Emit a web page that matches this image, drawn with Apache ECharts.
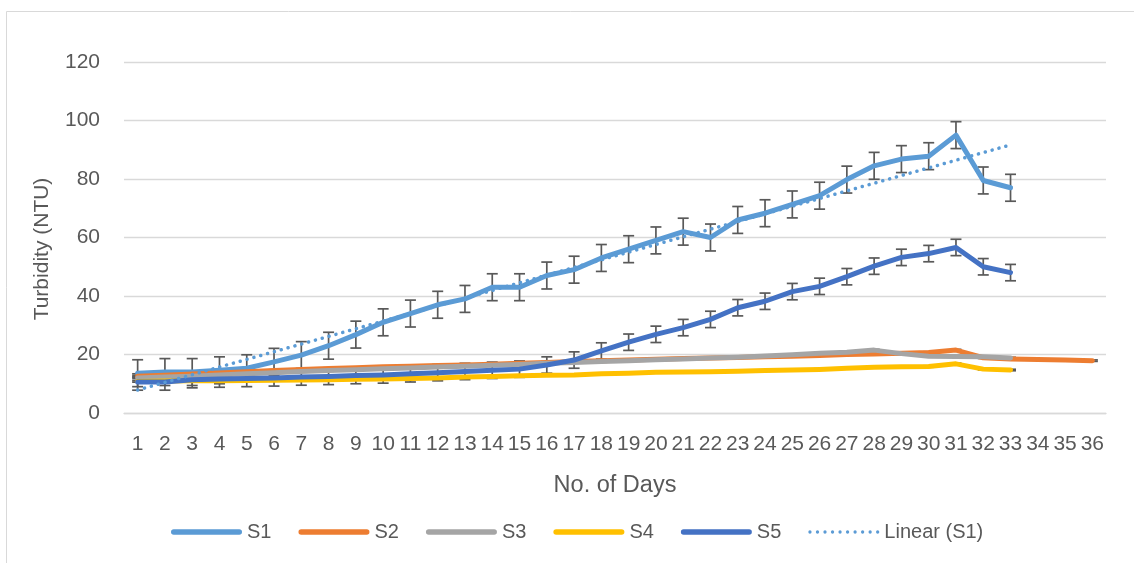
<!DOCTYPE html>
<html>
<head>
<meta charset="utf-8">
<script src="https://cdn.jsdelivr.net/npm/echarts@6/dist/echarts.min.js"></script>
<style>
html,body{margin:0;padding:0;background:#fff;}
#chart{width:1134px;height:563px;}
</style>
</head>
<body>
<div id="chart"></div>
<script>
// ---- data ----
const days = ['1','2','3','4','5','6','7','8','9','10','11','12','13','14','15','16','17','18','19','20','21','22','23','24','25','26','27','28','29','30','31','32','33','34','35','36'];
const yTicks = [0, 20, 40, 60, 80, 100, 120];
const S1 = [13.6,14,14,14.6,15.3,17.5,19.8,23,26.8,31,34,37,39,43,43,47,49,53,56,59,62,60,66,68.3,71.3,74.3,79.8,84.5,86.8,87.8,95,79.5,77];
const S2 = [12.6,12.9,13.3,13.7,14.1,14.5,14.9,15.2,15.5,15.8,16,16.2,16.4,16.7,17,17.3,17.6,17.9,18.1,18.4,18.6,18.8,19,19.2,19.4,19.7,20,20.2,20.4,20.7,21.5,18.9,18.5,18.3,18.1,17.9];
const S3 = [12,12.3,12.6,13,13.4,13.8,14.2,14.5,14.8,15.1,15.4,15.7,16,16.3,16.6,17,17.3,17.6,17.9,18.2,18.5,18.8,19.1,19.5,19.9,20.4,20.8,21.5,20.3,19.4,19.3,19.2,18.8];
const S4 = [10.8,10.9,11,11,11.1,11.2,11.3,11.4,11.5,11.6,11.8,12,12.3,12.5,12.7,12.9,13,13.4,13.6,13.9,14,14.1,14.3,14.5,14.7,14.9,15.3,15.6,15.8,15.9,16.8,15,14.7];
const S5 = [10.6,10.6,11.4,11.6,11.8,12,12.3,12.5,12.8,13,13.4,13.8,14.2,14.6,15,16.4,18.1,21.2,24.2,26.9,29.2,32,36,38.2,41.5,43.3,46.6,50.2,53.2,54.5,56.6,50,48];
const errS1 = 4.6;
const errS5 = 2.8;
const errSmall = 0.25;

// Linear trendline of S1 (least squares over days 1..n)
function linearTrend(vals) {
  const n = vals.length;
  let sx = 0, sy = 0, sxx = 0, sxy = 0;
  for (let i = 0; i < n; i++) { const x = i + 1; sx += x; sy += vals[i]; sxx += x * x; sxy += x * vals[i]; }
  const b = (n * sxy - sx * sy) / (n * sxx - sx * sx);
  const a = (sy - b * sx) / n;
  return vals.map((_, i) => +(a + b * (i + 1)).toFixed(3));
}
const trendS1 = linearTrend(S1);

const C = {s1:'#5B9BD5', s2:'#ED7D31', s3:'#A5A5A5', s4:'#FFC000', s5:'#4472C4'};
const FONT = '"Liberation Sans", Arial, sans-serif';
const TXT = '#595959';

// legend icons
const SOLID_ICON = 'path://M2.75,0h65.5a2.75,2.75 0 0 1 0,5.5h-65.5a2.75,2.75 0 0 1 0,-5.5z';
let dotPath = 'path://';
for (let k = 0; k < 10; k++) { const cx = 1.6 + k * 7.3; dotPath += 'M' + (cx - 1.6) + ',1.6a1.6,1.6 0 1,0 3.2,0a1.6,1.6 0 1,0 -3.2,0z'; }
const DOT_ICON = dotPath;

function errData(vals, e) { return vals.map((v, i) => [i, v, e]); }
function errSeries(vals, e) {
  return {
    type: 'custom',
    silent: true,
    data: errData(vals, e),
    encode: {x: 0, y: 1},
    renderItem: function (params, api) {
      const x = api.value(0), y = api.value(1), er = api.value(2);
      const t = api.coord([x, y + er]);
      const b = api.coord([x, y - er]);
      const hw = 5.5;
      const st = {stroke: '#595959', lineWidth: 1.7};
      return {type: 'group', children: [
        {type: 'line', shape: {x1: t[0], y1: t[1], x2: b[0], y2: b[1]}, style: st},
        {type: 'line', shape: {x1: t[0] - hw, y1: t[1], x2: t[0] + hw, y2: t[1]}, style: st},
        {type: 'line', shape: {x1: b[0] - hw, y1: b[1], x2: b[0] + hw, y2: b[1]}, style: st}
      ]};
    }
  };
}
function lineSeries(name, vals, color) {
  return {
    name: name, type: 'line', data: vals, symbol: 'none', smooth: false,
    lineStyle: {color: color, width: 5, cap: 'round', join: 'round'},
    itemStyle: {color: color},
    emphasis: {disabled: true}
  };
}

const chart = echarts.init(document.getElementById('chart'), null, {renderer: 'canvas'});
chart.setOption({
  animation: false,
  backgroundColor: '#ffffff',
  textStyle: {fontFamily: FONT},
  grid: {left: 124, right: 28, top: 62, bottom: 150, containLabel: false},
  xAxis: {
    type: 'category', data: days, boundaryGap: true,
    axisLine: {show: true, lineStyle: {color: '#D9D9D9', width: 1.3}},
    axisTick: {show: false},
    axisLabel: {interval: 0, color: TXT, fontSize: 21, fontFamily: FONT, margin: 21},
    splitLine: {show: false}
  },
  yAxis: {
    type: 'value', min: yTicks[0], max: yTicks[yTicks.length - 1], interval: 20,
    axisLine: {show: false}, axisTick: {show: false},
    axisLabel: {color: TXT, fontSize: 21, fontFamily: FONT, margin: 24},
    splitLine: {lineStyle: {color: '#D9D9D9', width: 1.3}}
  },
  legend: {
    data: [
      {name: 'S1', icon: SOLID_ICON}, {name: 'S2', icon: SOLID_ICON}, {name: 'S3', icon: SOLID_ICON},
      {name: 'S4', icon: SOLID_ICON}, {name: 'S5', icon: SOLID_ICON}, {name: 'Linear (S1)', icon: DOT_ICON}
    ],
    left: 166, top: 517,
    itemWidth: 71, itemHeight: 6, itemGap: 27,
    textStyle: {color: TXT, fontSize: 20, fontFamily: FONT},
    selectedMode: false
  },
  graphic: [
    {type: 'rect', silent: true, z: -10, shape: {x: 6.5, y: 11.5, width: 1300, height: 700}, style: {fill: 'none', stroke: '#D9D9D9', lineWidth: 1}},
    {type: 'text', silent: true, x: 615, y: 486, style: {text: 'No. of Days', fill: TXT, font: '23.5px ' + FONT, textAlign: 'center', textVerticalAlign: 'middle'}},
    {type: 'text', silent: true, x: 42, y: 249, rotation: Math.PI / 2, style: {text: 'Turbidity (NTU)', fill: TXT, font: '21px ' + FONT, textAlign: 'center', textVerticalAlign: 'middle'}}
  ],
  series: [
    lineSeries('S1', S1, C.s1),
    errSeries(S1, errS1),
    errSeries(S2, errSmall),
    lineSeries('S2', S2, C.s2),
    errSeries(S3, errSmall),
    lineSeries('S3', S3, C.s3),
    errSeries(S4, errSmall),
    lineSeries('S4', S4, C.s4),
    lineSeries('S5', S5, C.s5),
    errSeries(S5, errS5),
    {
      name: 'Linear (S1)', type: 'line', data: trendS1, symbol: 'none',
      lineStyle: {color: C.s1, width: 3.5, type: [0.1, 7], cap: 'round'},
      itemStyle: {color: C.s1},
      emphasis: {disabled: true}
    }
  ]
});
</script>
</body>
</html>
